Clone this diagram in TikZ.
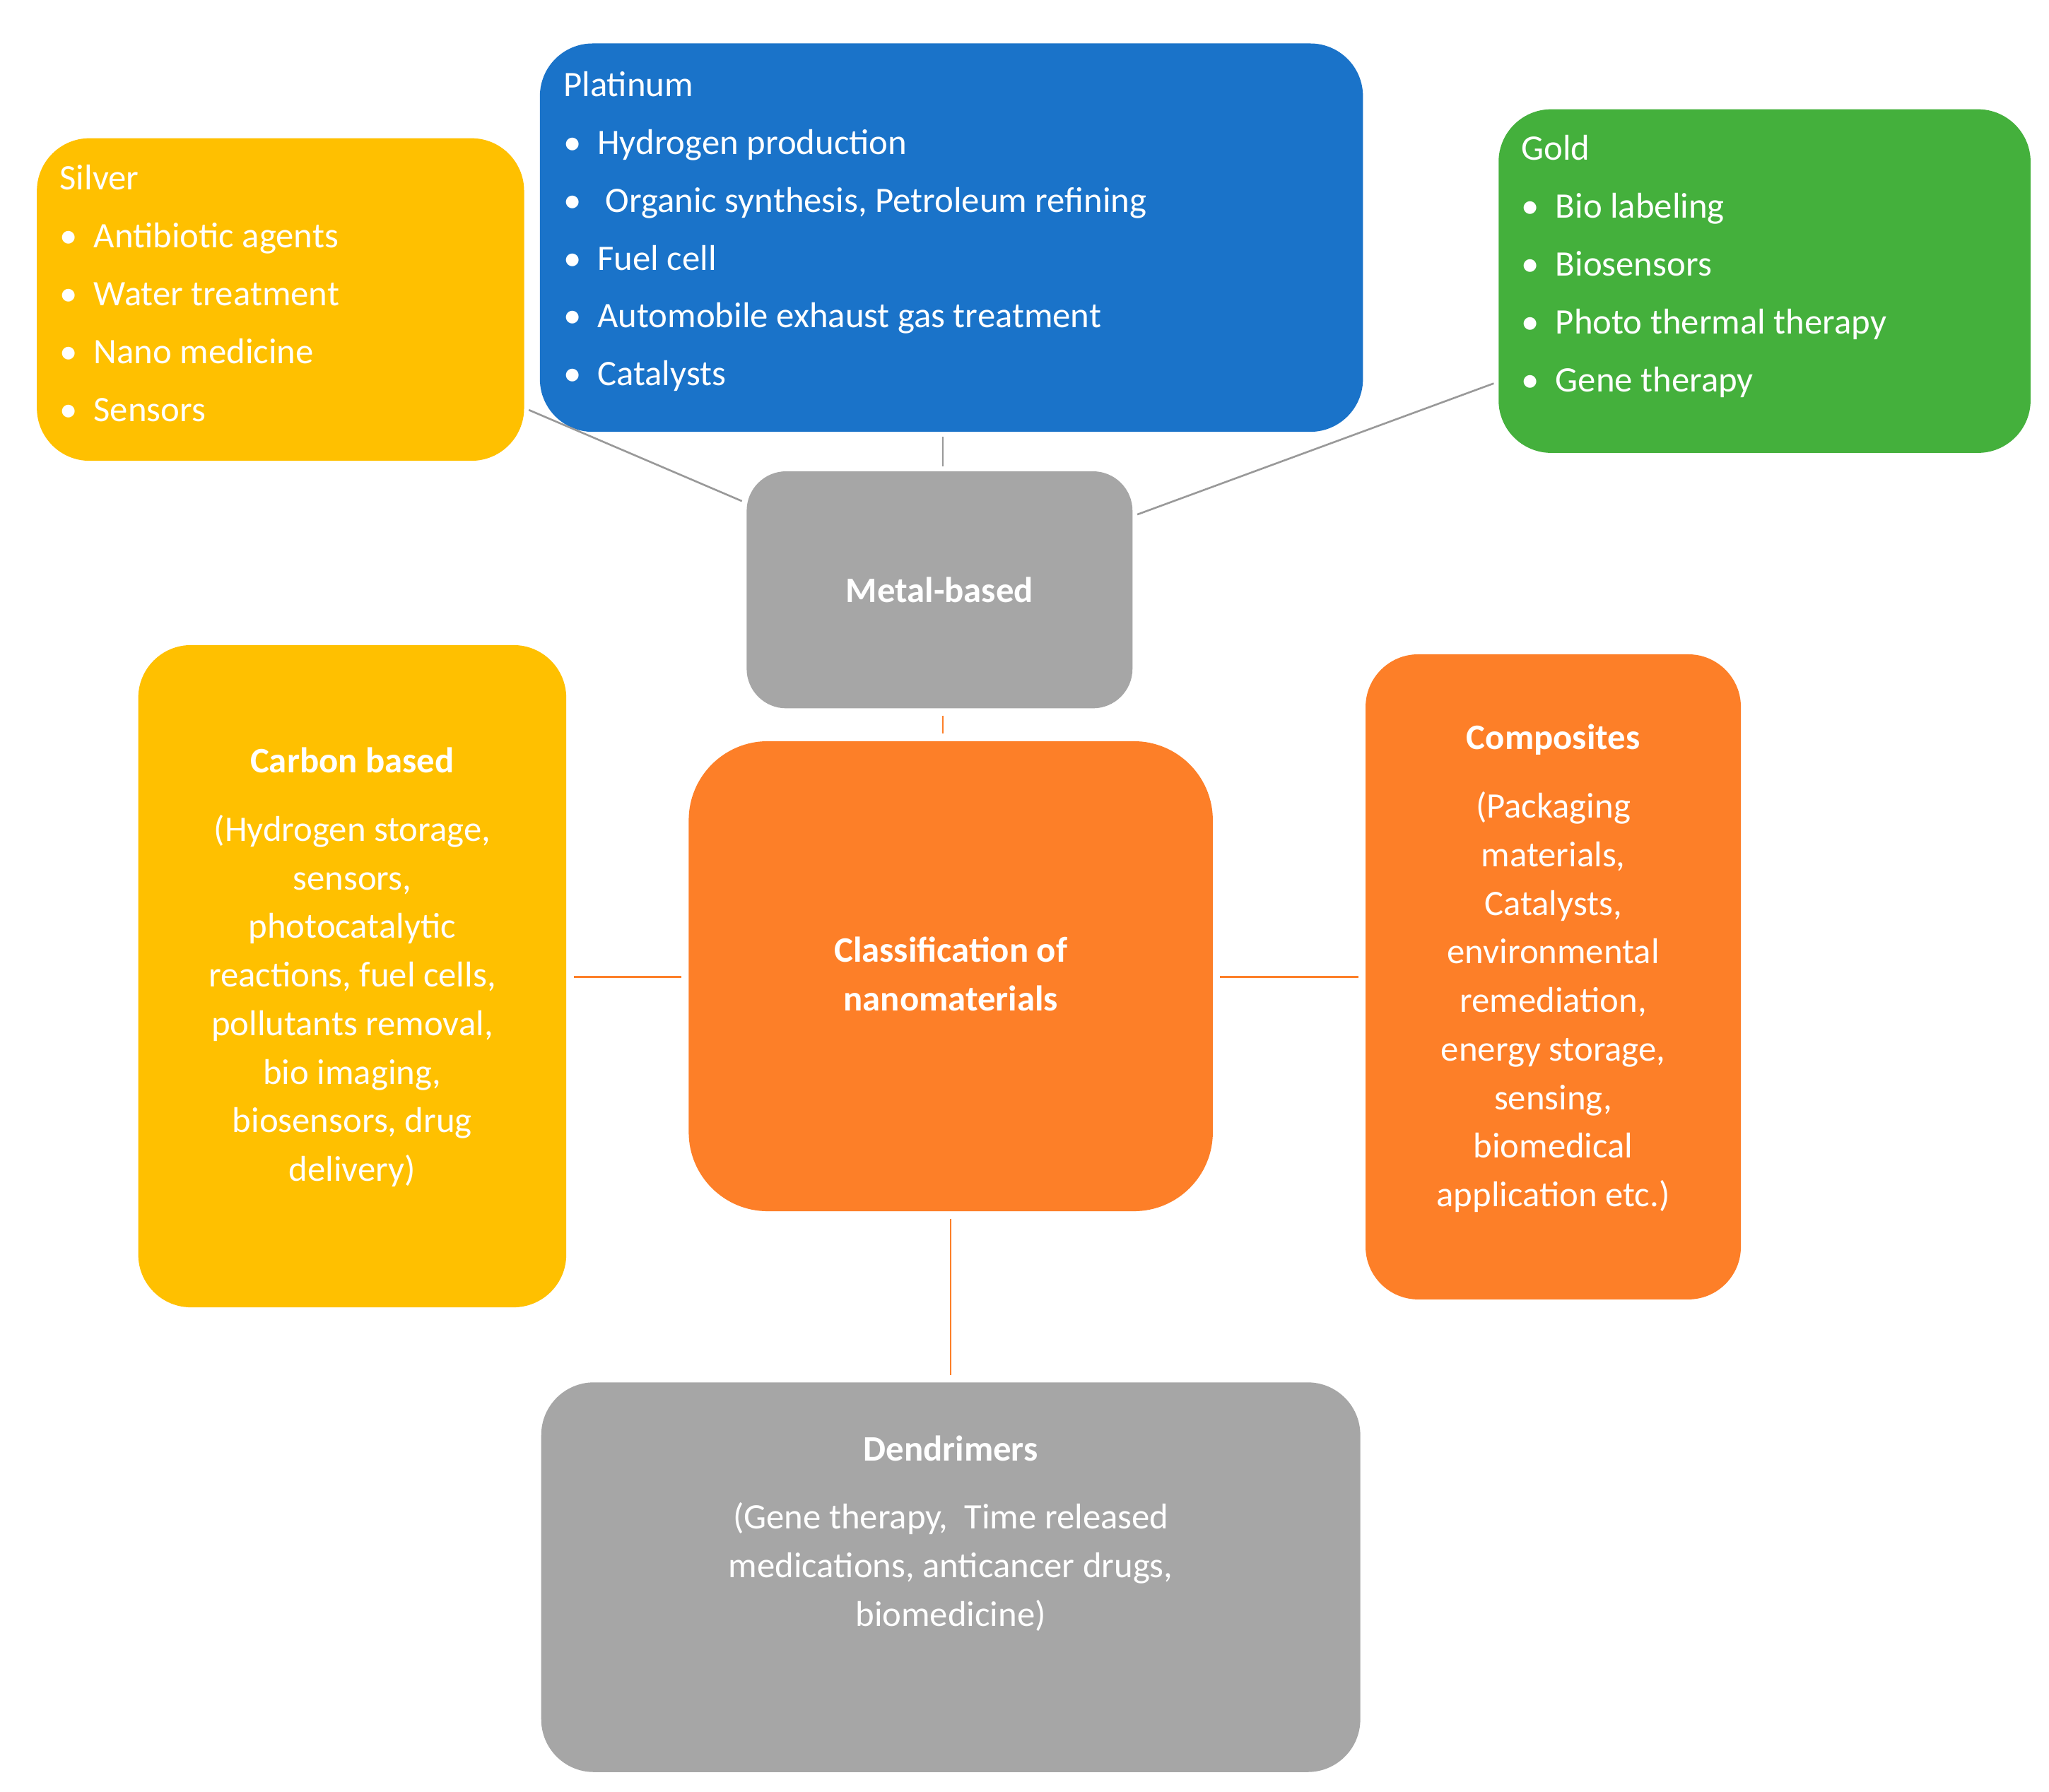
\documentclass[tikz,border=0pt]{standalone}
\usepackage{fontspec}
\setmainfont{Carlito}
\begin{document}
\definecolor{cyel}{HTML}{FFC000}
\definecolor{cblue}{HTML}{1A73C9}
\definecolor{cgreen}{HTML}{44B03C}
\definecolor{cgray}{HTML}{A6A6A6}
\definecolor{corange}{HTML}{FD7F28}
\begin{tikzpicture}[
  box/.style={draw=none,rounded corners=0.8cm,inner sep=0pt},
  txt/.style={text=white,font=\fontsize{15.5}{25}\selectfont,align=left,inner sep=0pt},
  ctxt/.style={text=white,font=\fontsize{15.5}{21}\selectfont,align=center,inner sep=0pt},
  gl/.style={draw=gray!80,line width=0.8pt},
  ol/.style={draw=corange,line width=0.8pt}]
\useasboundingbox[fill=white] (0,0) rectangle (31.12,-27.22);
\node[box,fill=cyel,minimum width=7.4cm,minimum height=4.9cm] (silver) at (4.26,-4.55) {};
\node[box,fill=cblue,minimum width=12.5cm,minimum height=5.9cm] (plat) at (14.45,-3.61) {};
\node[box,fill=cgreen,minimum width=8.08cm,minimum height=5.22cm] (gold) at (26.8,-4.27) {};
\node[box,fill=cgray,rounded corners=0.6cm,minimum width=5.86cm,minimum height=3.6cm] (metal) at (14.27,-8.96) {};
\node[box,fill=cyel,minimum width=6.5cm,minimum height=10.06cm] (carbon) at (5.35,-14.83) {};
\node[box,fill=corange,rounded corners=1.2cm,minimum width=7.96cm,minimum height=7.14cm] (class) at (14.44,-14.83) {};
\node[box,fill=corange,minimum width=5.7cm,minimum height=9.8cm] (comp) at (23.59,-14.84) {};
\node[box,fill=cgray,minimum width=12.44cm,minimum height=5.92cm] (dend) at (14.44,-23.96) {};

\node[txt,anchor=north west] (silvert) at (0.9,-2.5) {Silver\\
\textbullet\ \ Antibiotic agents\\ \textbullet\ \ Water treatment\\ \textbullet\ \ Nano medicine\\ \textbullet\ \ Sensors};
\node[txt,anchor=north west] (platt) at (8.55,-1.08) {Platinum\\
\textbullet\ \ Hydrogen production\\ \textbullet\ \ \ Organic synthesis, Petroleum refining\\ \textbullet\ \ Fuel cell\\ \textbullet\ \ Automobile exhaust gas treatment\\ \textbullet\ \ Catalysts};
\node[txt,anchor=north west] (goldt) at (23.1,-2.05) {Gold\\
\textbullet\ \ Bio labeling\\ \textbullet\ \ Biosensors\\ \textbullet\ \ Photo thermal therapy\\ \textbullet\ \ Gene therapy};
\node[ctxt,font=\fontsize{15.5}{21}\selectfont\bfseries] (metalt) at (metal) {Metal-based};
\node[ctxt,font=\fontsize{15.5}{21}\selectfont\bfseries] (classt) at (14.44,-14.8) {Classification of\\nanomaterials};
\node[ctxt,anchor=north] (carbont) at (5.35,-11.35) {\textbf{Carbon based}\\[0.3cm](Hydrogen storage,\\sensors,\\photocatalytic\\reactions, fuel cells,\\pollutants removal,\\bio imaging,\\biosensors, drug\\delivery)};
\node[ctxt,anchor=north] (compt) at (23.59,-11.0) {\textbf{Composites}\\[0.3cm](Packaging\\materials,\\Catalysts,\\environmental\\remediation,\\energy storage,\\sensing,\\biomedical\\application etc.)};
\node[ctxt,anchor=north] (dendt) at (14.44,-21.8) {\textbf{Dendrimers}\\[0.3cm](Gene therapy,\ \ Time released\\medications, anticancer drugs,\\biomedicine)};

\draw[gl,shorten <=2pt,shorten >=2pt] (silver.east |- 0,-6.2) -- (metal.north west |- 0,-7.64);
\draw[gl,shorten <=2pt,shorten >=2pt] (metal.north -| 14.32,0) -- (plat.south -| 14.32,0);
\draw[gl,shorten <=2pt,shorten >=2pt] (metal.east |- 0,-7.84) -- (gold.west |- 0,-5.8);
\draw[ol,shorten <=3pt,shorten >=3pt] (metal.south -| 14.32,0) -- (class.north -| 14.32,0);
\draw[ol,shorten <=3pt,shorten >=3pt] (carbon.east |- 0,-14.84) -- (class.west |- 0,-14.84);
\draw[ol,shorten <=3pt,shorten >=3pt] (class.east |- 0,-14.84) -- (comp.west |- 0,-14.84);
\draw[ol,shorten <=3pt,shorten >=3pt] (class.south) -- (dend.north);
\end{tikzpicture}
\end{document}
